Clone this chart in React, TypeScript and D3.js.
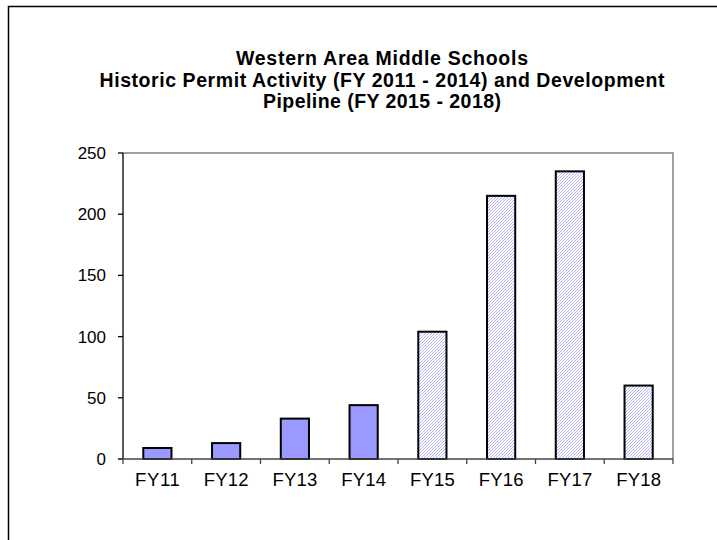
import * as d3 from 'd3';
import React from 'react';

// data
const years = ['FY11', 'FY12', 'FY13', 'FY14', 'FY15', 'FY16', 'FY17', 'FY18'];
const permits = [9, 13, 33, 44, 104, 215, 235, 60];
const pipeline = [false, false, false, false, true, true, true, true];
const yTicks = [0, 50, 100, 150, 200, 250];
const titleLines = [
  'Western Area Middle Schools',
  'Historic Permit Activity (FY 2011 - 2014) and Development',
  'Pipeline (FY 2015 - 2018)',
];
// rendered widths of the title lines in the original
const titleWidths = [292, 565, 238];

const W = 717;
const H = 540;
const plot = { left: 123, right: 673, top: 153, bottom: 459 };

export default function App() {
  const x = d3.scaleBand<string>()
    .domain(years)
    .range([plot.left, plot.right])
    .paddingInner(0.59)
    .paddingOuter(0.295);

  const bandX = d3.scaleBand<string>()
    .domain(years)
    .range([plot.left, plot.right]);

  const y = d3.scaleLinear()
    .domain([0, 250])
    .range([plot.bottom, plot.top]);

  const font = 'Arial, "Liberation Sans", sans-serif';

  return (
    <svg
      width={W}
      height={H}
      style={{ position: 'absolute', left: 0, top: 0, background: '#fff' }}
    >
      <defs>
        {/* pixel diagonal hatch, "/" direction */}
        <pattern id="hatch" patternUnits="userSpaceOnUse" width={3} height={3}>
          <rect width={3} height={3} fill="#fff" />
          <rect x={0} y={2} width={1} height={1} fill="#B4B4FF" />
          <rect x={1} y={1} width={1} height={1} fill="#B4B4FF" />
          <rect x={2} y={0} width={1} height={1} fill="#B4B4FF" />
        </pattern>
      </defs>

      {/* outer chart border */}
      <rect x={8.5} y={6.5} width={W + 10} height={H + 10} fill="none" stroke="#000" strokeWidth={1.5} />

      {/* title */}
      {titleLines.map((t, i) => (
        <text
          key={i}
          x={382}
          y={65 + i * 21.5}
          textAnchor="middle"
          fontFamily={font}
          fontWeight="bold"
          fontSize={19.5}
          fill="#000"
          textLength={titleWidths[i]}
          lengthAdjust="spacing"
        >
          {t}
        </text>
      ))}

      {/* plot area frame (top / right) */}
      <path
        d={`M${plot.left},${plot.top}H${plot.right}V${plot.bottom}`}
        fill="none"
        stroke="#808080"
        strokeWidth={1.5}
      />

      {/* bars */}
      {years.map((yr, i) => (
        <rect
          key={yr}
          x={x(yr)}
          y={y(permits[i])}
          width={x.bandwidth()}
          height={plot.bottom - y(permits[i])}
          fill={pipeline[i] ? 'url(#hatch)' : '#9999FF'}
          stroke="#000"
          strokeWidth={2}
        />
      ))}

      {/* y axis */}
      <line x1={plot.left} x2={plot.left} y1={plot.top} y2={plot.bottom} stroke="#000" strokeWidth={1.3} />
      {yTicks.map((t) => (
        <g key={t}>
          <line x1={plot.left - 5} x2={plot.left} y1={y(t)} y2={y(t)} stroke="#000" strokeWidth={1.3} />
          <text
            x={plot.left - 17}
            y={y(t)}
            dy="0.35em"
            textAnchor="end"
            fontFamily={font}
            fontSize={17}
            fill="#000"
          >
            {t}
          </text>
        </g>
      ))}

      {/* x axis */}
      <line x1={plot.left - 5} x2={plot.right} y1={plot.bottom} y2={plot.bottom} stroke="#444" strokeWidth={1.3} />
      {years.map((yr) => (
        <line
          key={'t' + yr}
          x1={(bandX(yr) as number) + bandX.bandwidth()}
          x2={(bandX(yr) as number) + bandX.bandwidth()}
          y1={plot.bottom}
          y2={plot.bottom + 5}
          stroke="#444"
          strokeWidth={1.3}
        />
      ))}
      <line x1={plot.left} x2={plot.left} y1={plot.bottom} y2={plot.bottom + 5} stroke="#444" strokeWidth={1.3} />
      {years.map((yr) => (
        <text
          key={'l' + yr}
          x={(x(yr) as number) + x.bandwidth() / 2}
          y={plot.bottom + 27}
          textAnchor="middle"
          fontFamily={font}
          fontSize={18.5}
          fill="#000"
          textLength={45}
          lengthAdjust="spacing"
        >
          {yr}
        </text>
      ))}
    </svg>
  );
}
